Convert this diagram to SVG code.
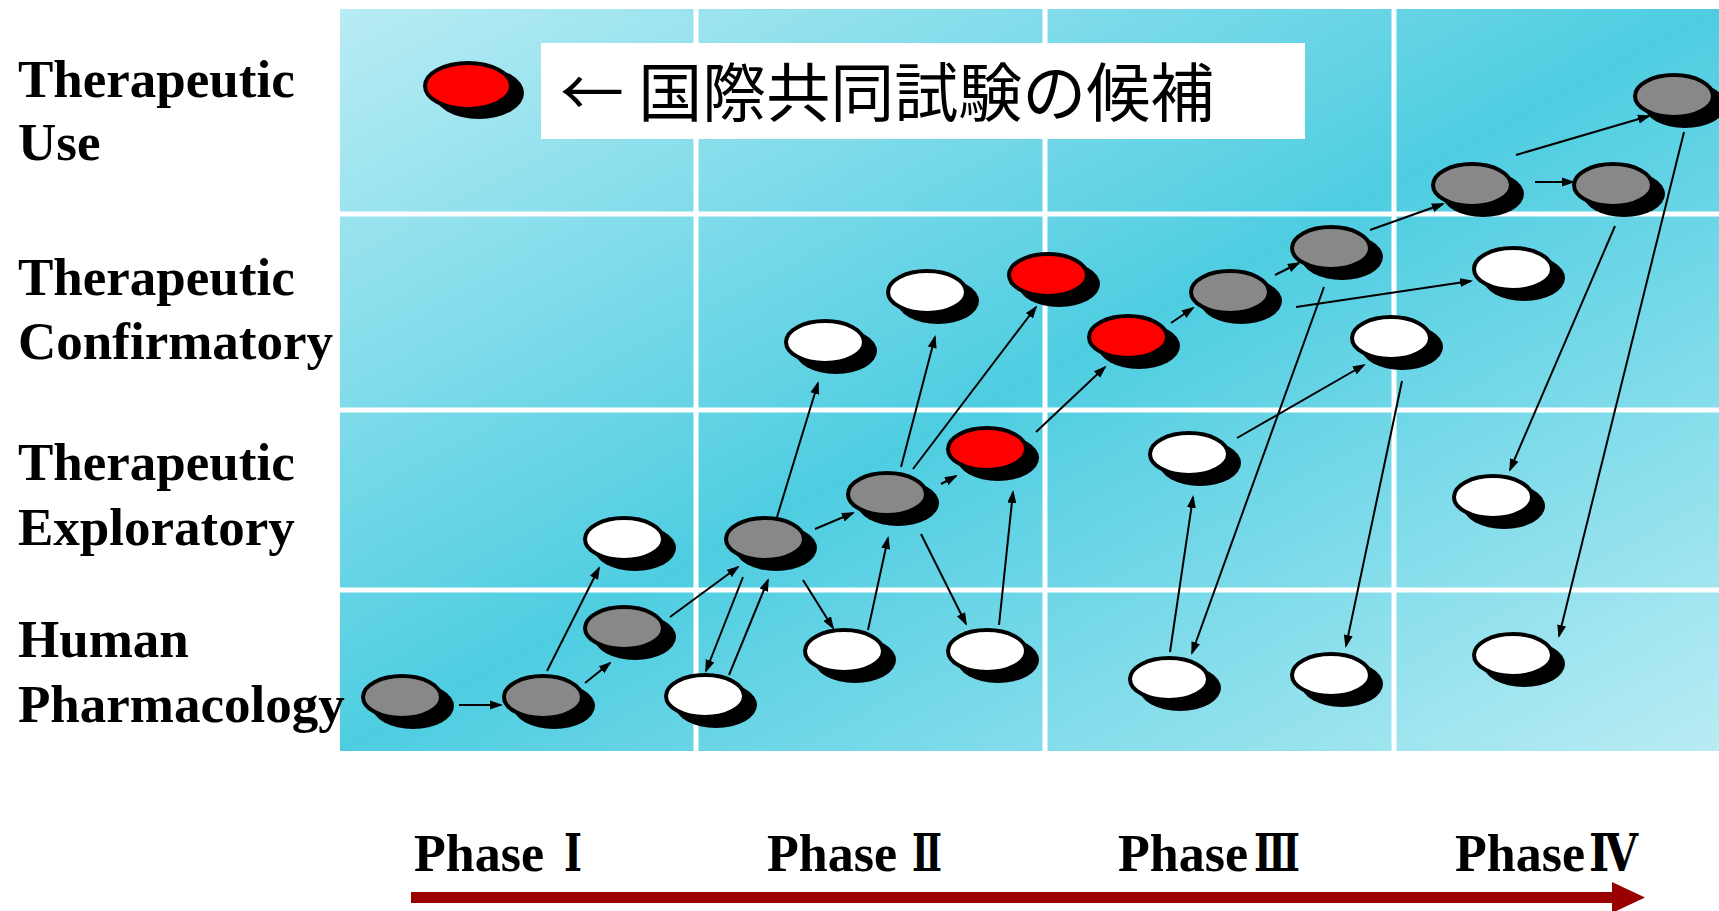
<svg xmlns="http://www.w3.org/2000/svg" width="1719" height="911" viewBox="0 0 1719 911">
<defs>
<linearGradient id="bg" x1="0" y1="0" x2="1" y2="1">
<stop offset="0" stop-color="#b9ecf4"/>
<stop offset="0.5" stop-color="#4ecde1"/>
<stop offset="1" stop-color="#b9ecf4"/>
</linearGradient>
<marker id="ah" viewBox="0 0 13 10" refX="11" refY="5" markerWidth="13" markerHeight="10" markerUnits="userSpaceOnUse" orient="auto">
<path d="M0,0.5 L13,5 L0,9.5 z" fill="#000"/>
</marker>
</defs>
<style>
.lbl{font-family:"Liberation Serif","Times New Roman",serif;font-weight:bold;font-size:53px;fill:#000}
.ph{font-family:"Liberation Serif","DejaVu Serif",serif;font-weight:bold;font-size:52px;fill:#000}
.num{font-family:"DejaVu Serif","Liberation Serif",serif;font-weight:bold;font-size:52px;fill:#000}
.leg{font-family:"Noto Sans CJK JP","Noto Sans",sans-serif;font-size:64px;fill:#000}
.sh{fill:#000}
.m{stroke:#000;stroke-width:4}
.g{fill:#888}
.w{fill:#fff}
.r{fill:#f00}
.grid{stroke:#fff;stroke-width:5}
#edges line{stroke:#000;stroke-width:2;marker-end:url(#ah)}
</style>
<rect width="1719" height="911" fill="#fff"/>
<g id="panel">
<rect x="340" y="9" width="1379" height="742" fill="url(#bg)"/>
<line class="grid" x1="696" y1="9" x2="696" y2="751"/>
<line class="grid" x1="1045" y1="9" x2="1045" y2="751"/>
<line class="grid" x1="1394" y1="9" x2="1394" y2="751"/>
<line class="grid" x1="340" y1="214" x2="1719" y2="214"/>
<line class="grid" x1="340" y1="410" x2="1719" y2="410"/>
<line class="grid" x1="340" y1="590" x2="1719" y2="590"/>
</g>
<g id="row-labels">
<text class="lbl" x="18" y="97">Therapeutic</text>
<text class="lbl" x="18" y="160">Use</text>
<text class="lbl" x="18" y="295">Therapeutic</text>
<text class="lbl" x="18" y="359">Confirmatory</text>
<text class="lbl" x="18" y="480">Therapeutic</text>
<text class="lbl" x="18" y="545">Exploratory</text>
<text class="lbl" x="18" y="657">Human</text>
<text class="lbl" x="18" y="722">Pharmacology</text>
</g>
<g id="legend">
<rect x="541" y="43" width="764" height="96" fill="#fff"/>
<ellipse class="sh" cx="479" cy="93" rx="45" ry="26"/>
<ellipse class="m r" cx="468" cy="86" rx="43" ry="23"/>
<text class="leg" x="560" y="116">← 国際共同試験の候補</text>
</g>
<g id="edges">
<line x1="459" y1="705" x2="501" y2="705"/>
<line x1="585" y1="683" x2="610" y2="663"/>
<line x1="547" y1="671" x2="599" y2="568"/>
<line x1="670" y1="617" x2="738" y2="567"/>
<line x1="743" y1="577" x2="706" y2="671"/>
<line x1="729" y1="675" x2="768" y2="580"/>
<line x1="803" y1="580" x2="833" y2="628"/>
<line x1="777" y1="517" x2="818" y2="383"/>
<line x1="815" y1="529" x2="853" y2="513"/>
<line x1="941" y1="484" x2="956" y2="476"/>
<line x1="921" y1="534" x2="966" y2="624"/>
<line x1="868" y1="630" x2="888" y2="538"/>
<line x1="999" y1="625" x2="1013" y2="492"/>
<line x1="901" y1="467" x2="935" y2="337"/>
<line x1="913" y1="469" x2="1036" y2="307"/>
<line x1="1036" y1="432" x2="1105" y2="367"/>
<line x1="1171" y1="323" x2="1193" y2="308"/>
<line x1="1275" y1="275" x2="1299" y2="263"/>
<line x1="1370" y1="230" x2="1443" y2="204"/>
<line x1="1516" y1="155" x2="1649" y2="116"/>
<line x1="1535" y1="182" x2="1573" y2="182"/>
<line x1="1296" y1="307" x2="1471" y2="281"/>
<line x1="1237" y1="438" x2="1364" y2="365"/>
<line x1="1170" y1="652" x2="1193" y2="497"/>
<line x1="1324" y1="287" x2="1192" y2="653"/>
<line x1="1402" y1="381" x2="1346" y2="646"/>
<line x1="1615" y1="226" x2="1510" y2="470"/>
<line x1="1684" y1="132" x2="1559" y2="636"/>
</g>
<g id="nA"><ellipse class="sh" cx="413" cy="706" rx="41" ry="23"/><ellipse class="m g" cx="402" cy="697" rx="39" ry="21"/></g>
<g id="nB"><ellipse class="sh" cx="554" cy="706" rx="41" ry="23"/><ellipse class="m g" cx="543" cy="697" rx="39" ry="21"/></g>
<g id="nC"><ellipse class="sh" cx="635" cy="637" rx="41" ry="23"/><ellipse class="m g" cx="624" cy="628" rx="39" ry="21"/></g>
<g id="nD"><ellipse class="sh" cx="635" cy="548" rx="41" ry="23"/><ellipse class="m w" cx="624" cy="539" rx="39" ry="21"/></g>
<g id="nE"><ellipse class="sh" cx="716" cy="705" rx="41" ry="23"/><ellipse class="m w" cx="705" cy="696" rx="39" ry="21"/></g>
<g id="nF"><ellipse class="sh" cx="776" cy="548" rx="41" ry="23"/><ellipse class="m g" cx="765" cy="539" rx="39" ry="21"/></g>
<g id="nG"><ellipse class="sh" cx="855" cy="660" rx="41" ry="23"/><ellipse class="m w" cx="844" cy="651" rx="39" ry="21"/></g>
<g id="nH"><ellipse class="sh" cx="836" cy="351" rx="41" ry="23"/><ellipse class="m w" cx="825" cy="342" rx="39" ry="21"/></g>
<g id="nI"><ellipse class="sh" cx="898" cy="503" rx="41" ry="23"/><ellipse class="m g" cx="887" cy="494" rx="39" ry="21"/></g>
<g id="nJ"><ellipse class="sh" cx="998" cy="458" rx="41" ry="23"/><ellipse class="m r" cx="987" cy="449" rx="39" ry="21"/></g>
<g id="nK"><ellipse class="sh" cx="998" cy="660" rx="41" ry="23"/><ellipse class="m w" cx="987" cy="651" rx="39" ry="21"/></g>
<g id="nD2"><ellipse class="sh" cx="938" cy="301" rx="41" ry="23"/><ellipse class="m w" cx="927" cy="292" rx="39" ry="21"/></g>
<g id="nJ2"><ellipse class="sh" cx="1059" cy="284" rx="41" ry="23"/><ellipse class="m r" cx="1048" cy="275" rx="39" ry="21"/></g>
<g id="nL"><ellipse class="sh" cx="1139" cy="346" rx="41" ry="23"/><ellipse class="m r" cx="1128" cy="337" rx="39" ry="21"/></g>
<g id="nX"><ellipse class="sh" cx="1241" cy="301" rx="41" ry="23"/><ellipse class="m g" cx="1230" cy="292" rx="39" ry="21"/></g>
<g id="nQ"><ellipse class="sh" cx="1342" cy="257" rx="41" ry="23"/><ellipse class="m g" cx="1331" cy="248" rx="39" ry="21"/></g>
<g id="nV"><ellipse class="sh" cx="1483" cy="194" rx="41" ry="23"/><ellipse class="m g" cx="1472" cy="185" rx="39" ry="21"/></g>
<g id="nW"><ellipse class="sh" cx="1624" cy="194" rx="41" ry="23"/><ellipse class="m g" cx="1613" cy="185" rx="39" ry="21"/></g>
<g id="nU"><ellipse class="sh" cx="1685" cy="105" rx="41" ry="23"/><ellipse class="m g" cx="1674" cy="96" rx="39" ry="21"/></g>
<g id="nR"><ellipse class="sh" cx="1524" cy="278" rx="41" ry="23"/><ellipse class="m w" cx="1513" cy="269" rx="39" ry="21"/></g>
<g id="nP"><ellipse class="sh" cx="1402" cy="347" rx="41" ry="23"/><ellipse class="m w" cx="1391" cy="338" rx="39" ry="21"/></g>
<g id="nM"><ellipse class="sh" cx="1200" cy="463" rx="41" ry="23"/><ellipse class="m w" cx="1189" cy="454" rx="39" ry="21"/></g>
<g id="nN"><ellipse class="sh" cx="1180" cy="688" rx="41" ry="23"/><ellipse class="m w" cx="1169" cy="679" rx="39" ry="21"/></g>
<g id="nO"><ellipse class="sh" cx="1342" cy="684" rx="41" ry="23"/><ellipse class="m w" cx="1331" cy="675" rx="39" ry="21"/></g>
<g id="nS"><ellipse class="sh" cx="1504" cy="506" rx="41" ry="23"/><ellipse class="m w" cx="1493" cy="497" rx="39" ry="21"/></g>
<g id="nT"><ellipse class="sh" cx="1524" cy="664" rx="41" ry="23"/><ellipse class="m w" cx="1513" cy="655" rx="39" ry="21"/></g>
<g id="phases">
<text class="ph" x="414" y="871">Phase</text>
<text class="num" x="564" y="871" textLength="18" lengthAdjust="spacingAndGlyphs">Ⅰ</text>
<text class="ph" x="767" y="871">Phase</text>
<text class="num" x="912" y="871" textLength="30" lengthAdjust="spacingAndGlyphs">Ⅱ</text>
<text class="ph" x="1118" y="871">Phase</text>
<text class="num" x="1254" y="871" textLength="46" lengthAdjust="spacingAndGlyphs">Ⅲ</text>
<text class="ph" x="1455" y="871">Phase</text>
<text class="num" x="1589" y="871" textLength="49" lengthAdjust="spacingAndGlyphs">Ⅳ</text>
<rect x="411" y="892" width="1203" height="11" fill="#990000"/>
<polygon points="1612,882 1645,897.5 1612,913" fill="#990000"/>
</g>
</svg>
